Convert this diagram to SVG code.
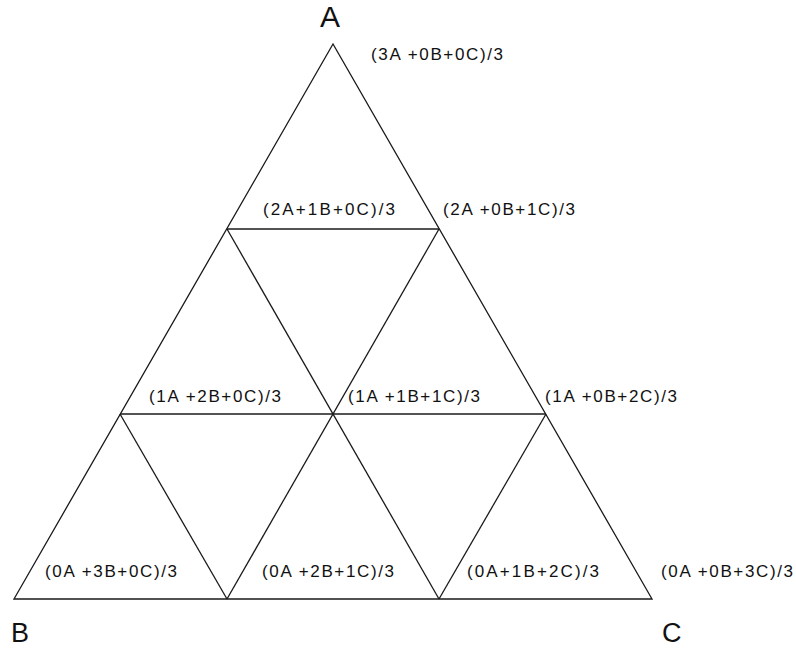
<svg xmlns="http://www.w3.org/2000/svg" width="796" height="652" viewBox="0 0 796 652">
<style>
.e{stroke:#1a1a1a;stroke-width:1.3;fill:none}
.l{font-family:"Liberation Sans",Arial,sans-serif;font-size:17px;fill:#111}
.v{font-family:"Liberation Sans",Arial,sans-serif;fill:#111}
</style>
<rect width="796" height="652" fill="#fff"/>
<g id="connectors">
<polygon class="e" points="333,44 14,599 652,599"/>
<line class="e" x1="227" y1="229" x2="439" y2="229"/>
<line class="e" x1="120" y1="414" x2="546" y2="414"/>
<line class="e" x1="227" y1="229" x2="439" y2="599"/>
<line class="e" x1="439" y1="229" x2="227" y2="599"/>
<line class="e" x1="120" y1="414" x2="227" y2="599"/>
<line class="e" x1="546" y1="414" x2="439" y2="599"/>
</g>
<g id="vertexA"><text class="v" x="320" y="27" font-size="30">A</text></g>
<g id="vertexB"><text class="v" x="11" y="642" font-size="27">B</text></g>
<g id="vertexC"><text class="v" x="662" y="642" font-size="27">C</text></g>
<g id="n300"><text class="l" x="371" y="60" textLength="132" lengthAdjust="spacing">(3A +0B+0C)/3</text></g>
<g id="n210"><text class="l" x="263" y="215" textLength="132" lengthAdjust="spacing">(2A+1B+0C)/3</text></g>
<g id="n201"><text class="l" x="443" y="215" textLength="132" lengthAdjust="spacing">(2A +0B+1C)/3</text></g>
<g id="n120"><text class="l" x="149" y="402" textLength="132" lengthAdjust="spacing">(1A +2B+0C)/3</text></g>
<g id="n111"><text class="l" x="348" y="402" textLength="132" lengthAdjust="spacing">(1A +1B+1C)/3</text></g>
<g id="n102"><text class="l" x="545" y="402" textLength="132" lengthAdjust="spacing">(1A +0B+2C)/3</text></g>
<g id="n030"><text class="l" x="45" y="577" textLength="132" lengthAdjust="spacing">(0A +3B+0C)/3</text></g>
<g id="n021"><text class="l" x="262" y="577" textLength="132" lengthAdjust="spacing">(0A +2B+1C)/3</text></g>
<g id="n012"><text class="l" x="467" y="577" textLength="132" lengthAdjust="spacing">(0A+1B+2C)/3</text></g>
<g id="n003"><text class="l" x="661" y="577" textLength="132" lengthAdjust="spacing">(0A +0B+3C)/3</text></g>
</svg>
